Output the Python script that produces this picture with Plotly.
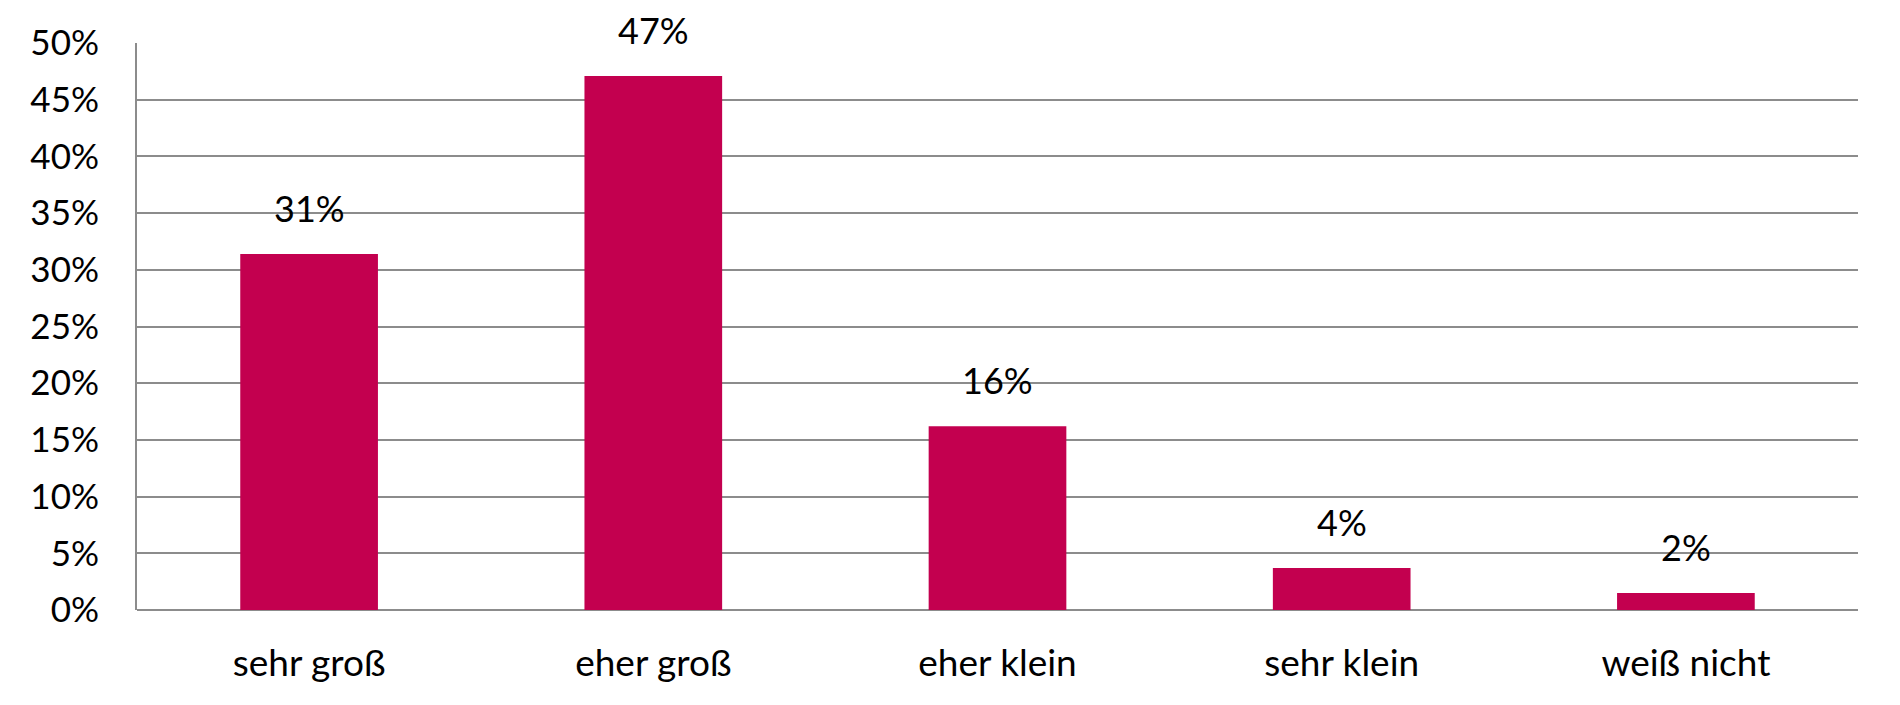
import plotly.graph_objects as go

categories = ["sehr groß", "eher groß", "eher klein", "sehr klein", "weiß nicht"]
values = [31.4, 47.1, 16.2, 3.7, 1.5]
value_labels = ["31%", "47%", "16%", "4%", "2%"]
tick_vals = [0, 5, 10, 15, 20, 25, 30, 35, 40, 45, 50]
tick_text = ["0%", "5%", "10%", "15%", "20%", "25%", "30%", "35%", "40%", "45%", "50%"]

FONT = "Lato"
GRID = "#8c8c8c"

fig = go.Figure()

fig.add_trace(go.Bar(
    x=categories,
    y=values,
    marker=dict(color="#C3004F", line=dict(width=0)),
    hoverinfo="skip",
))

# Datenbeschriftungen über den Balken
for cat, val, lab in zip(categories, values, value_labels):
    fig.add_annotation(
        x=cat, y=val, text=lab,
        showarrow=False, yanchor="bottom", yshift=22,
        font=dict(family=FONT, size=36, color="#000000"),
    )

# body hat 8px Rand im Browser -> Figur etwas kleiner
fig.update_layout(
    width=1892,
    height=697,
    margin=dict(l=129, r=42, t=30, b=95),
    paper_bgcolor="white",
    plot_bgcolor="white",
    bargap=0.6,
    showlegend=False,
    font=dict(family=FONT, size=36, color="#000000"),
)

fig.update_xaxes(
    showgrid=False,
    showline=False,
    ticks="",
    ticklabelstandoff=28,
    tickfont=dict(family=FONT, size=37, color="#000000"),
)

fig.update_yaxes(
    range=[0, 50],
    tickvals=tick_vals,
    ticktext=tick_text,
    showgrid=True,
    gridcolor=GRID,
    gridwidth=2,
    showline=True,
    linecolor=GRID,
    linewidth=2,
    zeroline=True,
    zerolinecolor=GRID,
    zerolinewidth=2,
    ticks="",
    ticklabelstandoff=29,
    tickfont=dict(family=FONT, size=35, color="#000000"),
)

fig.write_html("out.html")
